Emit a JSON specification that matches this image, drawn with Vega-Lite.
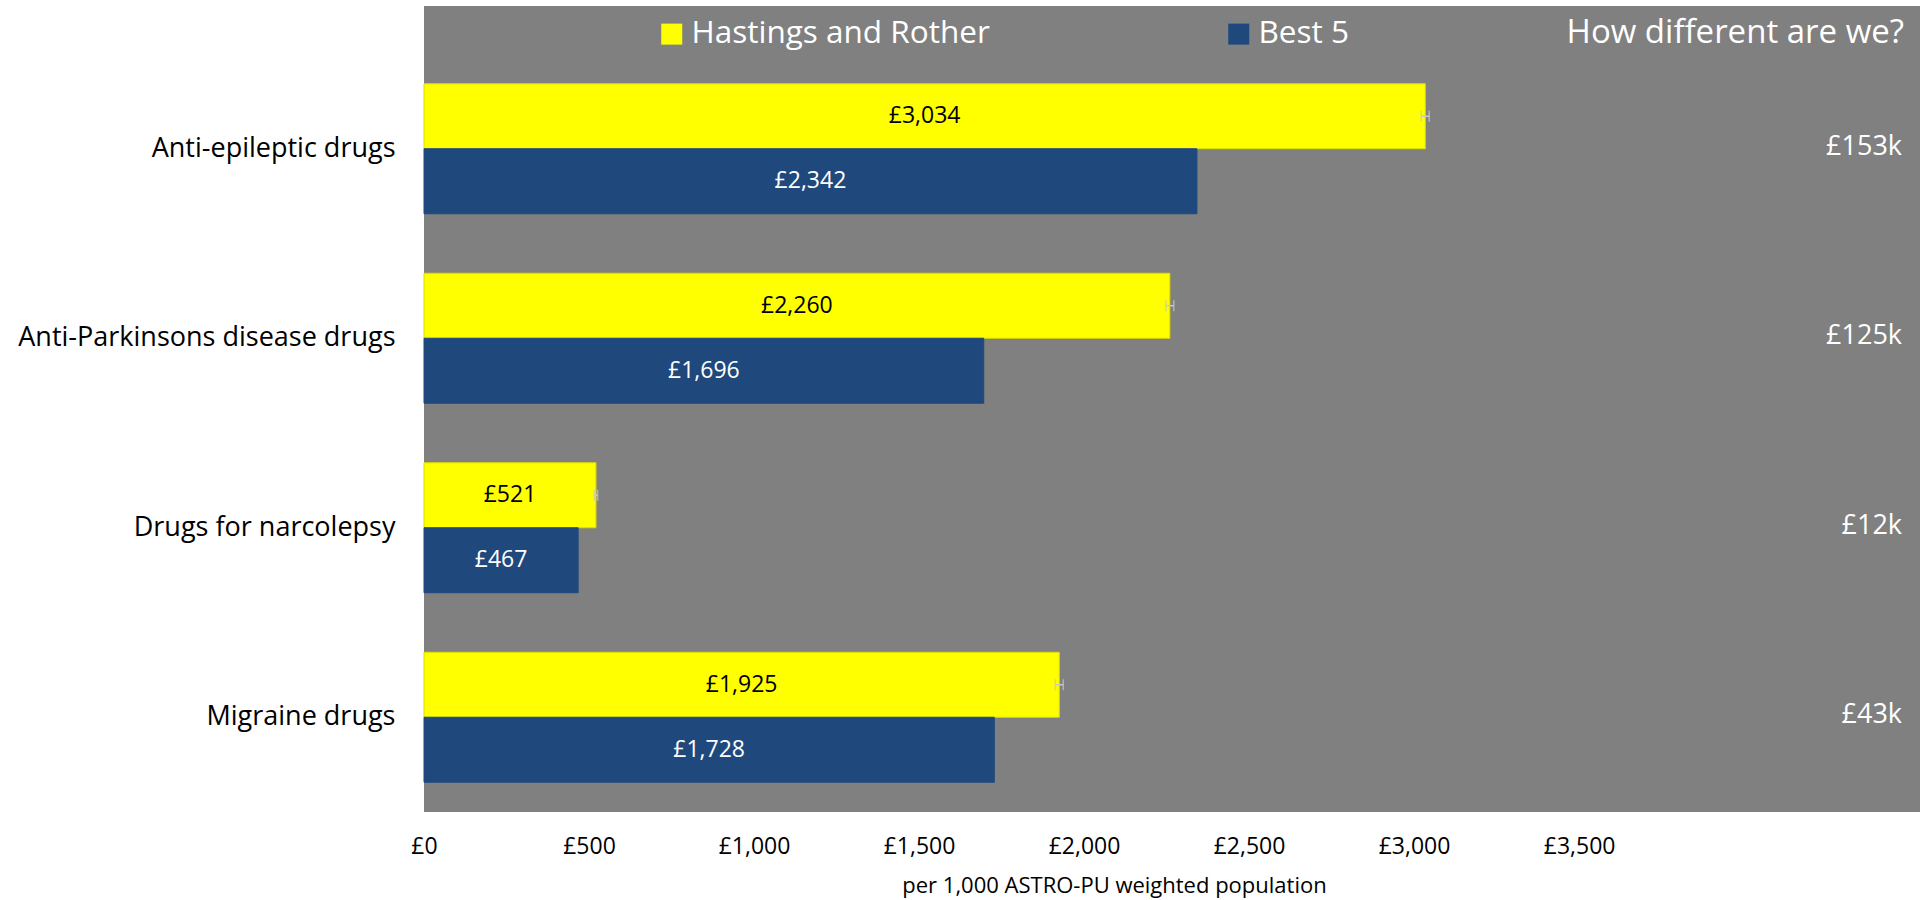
{
  "$schema": "https://vega.github.io/schema/vega-lite/v6.json",
  "padding": {"left": 17, "top": 6, "right": 4, "bottom": 4},
  "background": "white",
  "bounds": "flush",
  "spacing": 0,
  "config": {
    "font": "Open Sans",
    "view": {"fill": "#808080", "stroke": null},
    "locale": {"number": {"decimal": ".", "thousands": ",", "grouping": [3], "currency": ["£", ""]}},
    "axis": {"grid": false, "domain": false, "ticks": false, "tickSize": 0}
  },
  "datasets": {
    "bars": [
      {"category": "Anti-epileptic drugs", "series": "Hastings and Rother", "value": 3034},
      {"category": "Anti-epileptic drugs", "series": "Best 5", "value": 2342},
      {"category": "Anti-Parkinsons disease drugs", "series": "Hastings and Rother", "value": 2260},
      {"category": "Anti-Parkinsons disease drugs", "series": "Best 5", "value": 1696},
      {"category": "Drugs for narcolepsy", "series": "Hastings and Rother", "value": 521},
      {"category": "Drugs for narcolepsy", "series": "Best 5", "value": 467},
      {"category": "Migraine drugs", "series": "Hastings and Rother", "value": 1925},
      {"category": "Migraine drugs", "series": "Best 5", "value": 1728}
    ],
    "ci": [
      {"category": "Anti-epileptic drugs", "series": "Hastings and Rother", "lo": 3022, "hi": 3046},
      {"category": "Anti-Parkinsons disease drugs", "series": "Hastings and Rother", "lo": 2248, "hi": 2272},
      {"category": "Drugs for narcolepsy", "series": "Hastings and Rother", "lo": 516, "hi": 526},
      {"category": "Migraine drugs", "series": "Hastings and Rother", "lo": 1913, "hi": 1937}
    ],
    "diffs": [
      {"category": "Anti-epileptic drugs", "diff": 153000},
      {"category": "Anti-Parkinsons disease drugs", "diff": 125000},
      {"category": "Drugs for narcolepsy", "diff": 12000},
      {"category": "Migraine drugs", "diff": 43000}
    ],
    "header": [{"label": "How different are we?"}]
  },
  "vconcat": [
    {
      "width": 1496,
      "height": 48,
      "data": {"name": "header"},
      "mark": {"type": "text", "align": "right", "baseline": "middle", "fontSize": 33, "color": "white", "dx": -16, "dy": 3},
      "encoding": {
        "x": {"value": "width"},
        "text": {"field": "label", "type": "nominal"}
      }
    },
    {
      "width": 1496,
      "height": 758,
      "data": {"name": "bars"},
      "resolve": {"scale": {"x": "independent"}},
      "layer": [
        {
          "mark": {"type": "bar", "strokeWidth": 1},
          "encoding": {
            "y": {
              "field": "category", "type": "nominal",
              "scale": {"domain": ["Anti-epileptic drugs", "Anti-Parkinsons disease drugs", "Drugs for narcolepsy", "Migraine drugs"], "paddingInner": 0.314, "paddingOuter": 0.157},
              "axis": {"title": null, "labelFontSize": 27, "labelColor": "black", "labelPadding": 29, "labelLimit": 600}
            },
            "yOffset": {"field": "series", "type": "nominal", "scale": {"domain": ["Hastings and Rother", "Best 5"], "paddingInner": 0, "paddingOuter": 0}},
            "x": {
              "field": "value", "type": "quantitative",
              "scale": {"domain": [0, 4533], "nice": false, "zero": true},
              "axis": {
                "values": [0, 500, 1000, 1500, 2000, 2500, 3000, 3500],
                "format": "$,d",
                "labelFontSize": 23, "labelColor": "black", "labelPadding": 23,
                "labelFlush": false, "labelOverlap": false,
                "title": "per 1,000 ASTRO-PU weighted population",
                "titleFontSize": 22, "titleFontWeight": "normal", "titleColor": "black",
                "titleX": 690, "titleY": 80, "titleBaseline": "alphabetic", "titleAlign": "center"
              }
            },
            "color": {
              "field": "series", "type": "nominal",
              "scale": {"domain": ["Hastings and Rother", "Best 5"], "range": ["#ffff00", "#1f497d"]},
              "legend": {
                "orient": "none", "legendX": 232, "legendY": 12, "direction": "horizontal",
                "title": null, "labelColor": "white", "labelFontSize": 31.5,
                "symbolType": "square", "symbolSize": 441, "symbolStrokeWidth": 0, "symbolOpacity": 1,
                "labelOffset": 4, "columnPadding": 233, "padding": 0, "labelLimit": 600
              }
            },
            "stroke": {
              "field": "series", "type": "nominal",
              "scale": {"domain": ["Hastings and Rother", "Best 5"], "range": ["#dcdc00", "#1f497d"]},
              "legend": null
            }
          }
        },
        {
          "mark": {"type": "text", "align": "center", "baseline": "middle", "fontSize": 23},
          "encoding": {
            "y": {"field": "category", "type": "nominal"},
            "yOffset": {"field": "series", "type": "nominal"},
            "x": {"field": "value", "type": "quantitative", "scale": {"domain": [0, 9066], "nice": false, "zero": true}, "axis": null},
            "text": {"field": "value", "type": "quantitative", "format": "$,d"},
            "color": {"condition": {"test": "datum.series === 'Best 5'", "value": "white"}, "value": "black"}
          }
        },
        {
          "data": {"name": "ci"},
          "mark": {"type": "rule", "color": "#c8c8c8", "strokeWidth": 1.5},
          "encoding": {
            "y": {"field": "category", "type": "nominal"},
            "yOffset": {"field": "series", "type": "nominal"},
            "x": {"field": "lo", "type": "quantitative", "scale": {"domain": [0, 4533], "nice": false, "zero": true}, "axis": null},
            "x2": {"field": "hi"}
          }
        },
        {
          "data": {"name": "ci"},
          "mark": {"type": "tick", "orient": "vertical", "size": 11, "thickness": 1.5, "color": "#c8c8c8"},
          "encoding": {
            "y": {"field": "category", "type": "nominal"},
            "yOffset": {"field": "series", "type": "nominal"},
            "x": {"field": "lo", "type": "quantitative", "scale": {"domain": [0, 4533], "nice": false, "zero": true}, "axis": null}
          }
        },
        {
          "data": {"name": "ci"},
          "mark": {"type": "tick", "orient": "vertical", "size": 11, "thickness": 1.5, "color": "#c8c8c8"},
          "encoding": {
            "y": {"field": "category", "type": "nominal"},
            "yOffset": {"field": "series", "type": "nominal"},
            "x": {"field": "hi", "type": "quantitative", "scale": {"domain": [0, 4533], "nice": false, "zero": true}, "axis": null}
          }
        },
        {
          "data": {"name": "diffs"},
          "mark": {"type": "text", "align": "right", "baseline": "middle", "fontSize": 27, "color": "white", "dx": -18, "dy": -2},
          "encoding": {
            "y": {"field": "category", "type": "nominal"},
            "x": {"value": "width"},
            "text": {"field": "diff", "type": "quantitative", "format": "$.3~s"}
          }
        }
      ]
    }
  ]
}
